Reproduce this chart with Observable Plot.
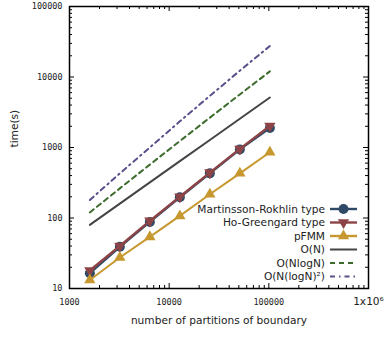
<!DOCTYPE html>
<html><head><meta charset="utf-8">
<script src="https://cdn.jsdelivr.net/npm/d3@7"></script>
<script src="https://cdn.jsdelivr.net/npm/@observablehq/plot@0.6"></script>
<style>body{margin:0;background:#fff}</style>
</head><body><div id="chart"></div>
<script>
const N = [1600, 3200, 6400, 12800, 25600, 51200, 102400];
const mrTime = [16.5, 39, 88, 197, 430, 940, 1890];
const hgTime = [18, 40, 91, 200, 440, 955, 2020];
const pfmmTime = [13.2, 27.5, 54, 107, 217, 430, 855];
const oN = [80, 160, 320, 640, 1280, 2560, 5120];
const oNlogN = [120, 263, 572, 1235, 2650, 5660, 12000];
const oNlog2N = [180, 430, 1000, 2350, 5400, 12300, 27500];
const xMajor = [1000, 10000, 100000, 1000000];
const yMajor = [10, 100, 1000, 10000, 100000];
const seriesNames = ["Martinsson-Rokhlin type", "Ho-Greengard type", "pFMM", "O(N)", "O(NlogN)", "O(N(logN)\u00b2)"];

const xMinor = [1000, 10000, 100000].flatMap(d => [2,3,4,5,6,7,8,9].map(m => m * d));
const yMinor = [10, 100, 1000, 10000].flatMap(d => [2,3,4,5,6,7,8,9].map(m => m * d));

const W = 386, H = 338, mL = 69, mR = 18, mT = 6, mB = 50;
const iW = W - mL - mR, iH = H - mT - mB;
const rows = (ys) => N.map((n, i) => ({n, t: ys[i]}));

const C = {mr: "#2f4a66", hg: "#8c4447", pf: "#c7982f", on: "#444444", nl: "#3c6b2c", n2: "#56518a"};
const lineW = 2.4;
const FS = 10.6;

const plot = Plot.plot({
  width: W, height: H, marginLeft: mL, marginRight: mR, marginTop: mT, marginBottom: mB,
  x: {type: "log", domain: [1000, 1000000]},
  y: {type: "log", domain: [10, 100000]},
  style: {background: "#fff"},
  marks: [
    Plot.ruleX(xMajor, {insetTop: iH - 5, stroke: "#000"}),
    Plot.ruleX(xMinor, {insetTop: iH - 3, stroke: "#000"}),
    Plot.ruleX(xMajor, {insetBottom: iH - 5, stroke: "#000"}),
    Plot.ruleX(xMinor, {insetBottom: iH - 3, stroke: "#000"}),
    Plot.ruleY(yMajor, {insetRight: iW - 5, stroke: "#000"}),
    Plot.ruleY(yMinor, {insetRight: iW - 3, stroke: "#000"}),
    Plot.ruleY(yMajor, {insetLeft: iW - 5, stroke: "#000"}),
    Plot.ruleY(yMinor, {insetLeft: iW - 3, stroke: "#000"}),
    Plot.axisY({ticks: yMajor, tickSize: 0, tickPadding: 7, label: null, tickFormat: d => d3.format("d")(d),
      fontFamily: "DejaVu Sans Mono", fontSize: 8.5, fill: "#222"}),
    Plot.axisX({ticks: xMajor.slice(0, 3), tickSize: 0, tickPadding: 10, label: null, tickFormat: d => d3.format("d")(d),
      fontFamily: "DejaVu Sans Mono", fontSize: 8.5, fill: "#222"}),
    Plot.axisX({ticks: xMajor.slice(3), tickSize: 0, tickPadding: 9, label: null, tickFormat: () => "1x10\u2076",
      fontFamily: "DejaVu Sans", fontSize: FS, fill: "#222"}),
    Plot.text(["number of partitions of boundary"], {frameAnchor: "bottom", dy: 35, fontFamily: "DejaVu Sans", fontSize: FS, fill: "#222"}),
    Plot.text(["time(s)"], {frameAnchor: "left", dx: -55, rotate: -90, fontFamily: "DejaVu Sans", fontSize: FS, fill: "#222"}),
    Plot.line(rows(mrTime), {x: "n", y: "t", stroke: C.mr, strokeWidth: lineW}),
    Plot.dot(rows(mrTime), {x: "n", y: "t", r: 5, fill: C.mr, stroke: "none"}),
    Plot.line(rows(hgTime), {x: "n", y: "t", stroke: C.hg, strokeWidth: lineW}),
    Plot.dot(rows(hgTime), {x: "n", y: "t", r: 4.2, symbol: "triangle", rotate: 180, fill: C.hg, stroke: "none"}),
    Plot.line(rows(pfmmTime), {x: "n", y: "t", stroke: C.pf, strokeWidth: 2}),
    Plot.dot(rows(pfmmTime), {x: "n", y: "t", r: 4.2, symbol: "triangle", fill: C.pf, stroke: "none"}),
    Plot.line(rows(oN), {x: "n", y: "t", stroke: C.on, strokeWidth: 2}),
    Plot.line(rows(oNlogN), {x: "n", y: "t", stroke: C.nl, strokeWidth: 2, strokeDasharray: "5,4"}),
    Plot.line(rows(oNlog2N), {x: "n", y: "t", stroke: C.n2, strokeWidth: 2, strokeDasharray: "5,4,1.5,4"}),
    Plot.frame({stroke: "#000", strokeWidth: 1.5})
  ]
});
document.getElementById("chart").appendChild(plot);

const svg = d3.select(plot);
const styles = [
  {c: C.mr, sym: "circle"}, {c: C.hg, sym: "down"}, {c: C.pf, sym: "up"},
  {c: C.on, dash: null}, {c: C.nl, dash: "5,4"}, {c: C.n2, dash: "5,4,1.5,4"}
];
const g = svg.append("g").attr("font-family", "DejaVu Sans").attr("font-size", FS).attr("fill", "#222");
const textEnd = W - mR - 43, x1 = textEnd + 5, x2 = textEnd + 32, y0 = H - mB - 79, dyRow = 13.5;
seriesNames.forEach((name, i) => {
  const y = y0 + i * dyRow;
  const s = styles[i];
  g.append("text").attr("x", textEnd).attr("y", y).attr("dy", "0.35em").attr("text-anchor", "end").text(name);
  g.append("line").attr("x1", x1).attr("x2", x2).attr("y1", y).attr("y2", y)
    .attr("stroke", s.c).attr("stroke-width", i < 3 ? 2.4 : 2).attr("stroke-dasharray", s.dash || null);
  const cx = (x1 + x2) / 2;
  if (s.sym === "circle") g.append("circle").attr("cx", cx).attr("cy", y).attr("r", 5).attr("fill", s.c);
  if (s.sym === "down" || s.sym === "up") {
    const p = d3.symbol(d3.symbolTriangle, 4.2 * 4.2 * Math.PI)();
    g.append("path").attr("d", p).attr("fill", s.c)
      .attr("transform", `translate(${cx},${y})` + (s.sym === "down" ? " rotate(180)" : ""));
  }
});
</script>
</body></html>
